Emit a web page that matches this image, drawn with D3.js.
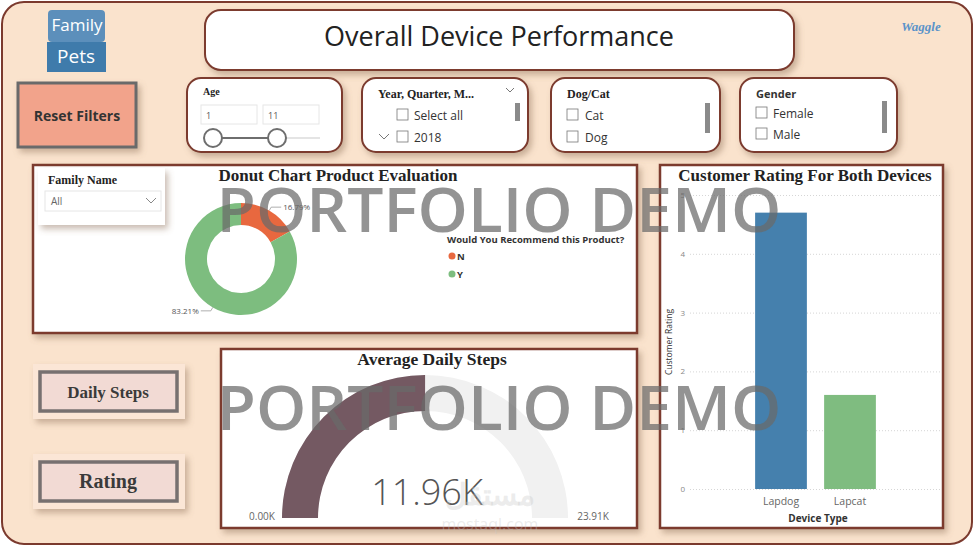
<!DOCTYPE html>
<html>
<head>
<meta charset="utf-8">
<script src="https://cdn.jsdelivr.net/npm/d3@7"></script>
<style>
  html, body { margin: 0; padding: 0; background: #fff; }
  svg { display: block; }
</style>
</head>
<body>
<div class="dash"></div>
<script>
// chart values
const recommendCats = ['N', 'Y'];
const recommendPct = [16.79, 83.21];
const deviceTypes = ['Lapdog', 'Lapcat'];
const deviceRatings = [4.7, 1.6];
const ratingTicks = [0, 1, 2, 3, 4, 5];
const stepsValue = 11.96;
const stepsMax = 23.91;
const ageRange = ['1', '11'];
const yearItems = ['Select all', '2018'];
const petItems = ['Cat', 'Dog'];
const genderItems = ['Female', 'Male'];

const width = 978;
const height = 547;
const brown = '#7b3a2e';
const serif = '"Liberation Serif", "DejaVu Serif", serif';
const sans = '"Open Sans", "Noto Sans", sans-serif';

const svg = d3.select('.dash').append('svg')
  .attr('width', width).attr('height', height);

const defs = svg.append('defs');
const shadow = defs.append('filter').attr('id', 'shadow')
  .attr('x', '-10%').attr('y', '-10%').attr('width', '130%').attr('height', '140%');
shadow.append('feDropShadow').attr('dx', 3).attr('dy', 4)
  .attr('stdDeviation', 3).attr('flood-color', '#8a6a55').attr('flood-opacity', 0.45);

// main background
svg.append('rect').attr('x', 2).attr('y', 2).attr('width', 970).attr('height', 542)
  .attr('rx', 22).attr('fill', '#fae3cd').attr('stroke', brown).attr('stroke-width', 2);

// title box
svg.append('rect').attr('x', 205).attr('y', 10).attr('width', 589).attr('height', 60)
  .attr('rx', 16).attr('fill', '#fff').attr('stroke', brown).attr('stroke-width', 2)
  .attr('filter', 'url(#shadow)');
svg.append('text').attr('x', 499).attr('y', 46).attr('text-anchor', 'middle')
  .attr('font-family', sans).attr('font-size', 27).attr('fill', '#222')
  .text('Overall Device Performance');

// logo
svg.append('rect').attr('x', 48).attr('y', 10).attr('width', 57).attr('height', 32)
  .attr('rx', 4).attr('fill', '#5c8fbb');
svg.append('rect').attr('x', 47).attr('y', 42).attr('width', 59).attr('height', 30)
  .attr('fill', '#3f7bab');
svg.append('text').attr('x', 77).attr('y', 31).attr('text-anchor', 'middle')
  .attr('font-family', sans).attr('font-size', 17).attr('fill', '#fff').text('Family');
svg.append('text').attr('x', 76).attr('y', 63).attr('text-anchor', 'middle')
  .attr('font-family', sans).attr('font-size', 19).attr('fill', '#fff').text('Pets');
svg.append('text').attr('x', 921).attr('y', 31).attr('text-anchor', 'middle')
  .attr('font-family', serif).attr('font-style', 'italic').attr('font-weight', 'bold')
  .attr('font-size', 13).attr('fill', '#5b93c9').text('Waggle');

// reset filters button
svg.append('rect').attr('x', 18).attr('y', 83).attr('width', 118).attr('height', 64)
  .attr('fill', '#f2a38b').attr('stroke', '#6b6b6b').attr('stroke-width', 3)
  .attr('filter', 'url(#shadow)');
svg.append('text').attr('x', 77).attr('y', 121).attr('text-anchor', 'middle')
  .attr('font-family', sans).attr('font-weight', 'bold').attr('font-size', 14)
  .attr('fill', '#333').text('Reset Filters');

// slicer cards
function card(x, y, w, h) {
  svg.append('rect').attr('x', x).attr('y', y).attr('width', w).attr('height', h)
    .attr('rx', 14).attr('fill', '#fff').attr('stroke', brown).attr('stroke-width', 2)
    .attr('filter', 'url(#shadow)');
}
function checkbox(x, y) {
  svg.append('rect').attr('x', x).attr('y', y).attr('width', 11).attr('height', 11)
    .attr('fill', '#fff').attr('stroke', '#777').attr('stroke-width', 0.8);
}
function scrollbar(x, y, h) {
  svg.append('rect').attr('x', x).attr('y', y).attr('width', 5).attr('height', h)
    .attr('fill', '#8a8a8a');
}
function label(x, y, txt, opts) {
  const o = Object.assign({size: 12, family: sans, weight: 'normal', fill: '#444', anchor: 'start'}, opts);
  return svg.append('text').attr('x', x).attr('y', y).attr('text-anchor', o.anchor)
    .attr('font-family', o.family).attr('font-size', o.size).attr('font-weight', o.weight)
    .attr('fill', o.fill).text(txt);
}

// Age
card(187, 78, 155, 74);
label(203, 95, 'Age', {family: serif, weight: 'bold', size: 10, fill: '#222'});
ageRange.forEach((v, i) => {
  const bx = 201 + i * 62;
  svg.append('rect').attr('x', bx).attr('y', 105).attr('width', 56).attr('height', 19)
    .attr('fill', '#fff').attr('stroke', '#e6e6e6');
  label(bx + 5, 119, v, {size: 9, fill: '#555'});
});
svg.append('line').attr('x1', 277).attr('x2', 320).attr('y1', 138).attr('y2', 138)
  .attr('stroke', '#e4e4e4').attr('stroke-width', 2);
svg.append('line').attr('x1', 213).attr('x2', 277).attr('y1', 138).attr('y2', 138)
  .attr('stroke', '#6e6e6e').attr('stroke-width', 2);
[213, 277].forEach(cx => {
  svg.append('circle').attr('cx', cx).attr('cy', 138).attr('r', 9)
    .attr('fill', '#fff').attr('stroke', '#6e6e6e').attr('stroke-width', 2);
});

// Year, Quarter, Month
card(362, 78, 166, 74);
label(378, 98, 'Year, Quarter, M...', {family: serif, weight: 'bold', size: 12, fill: '#222'});
svg.append('path').attr('d', 'M506,88 L510,92 L514,88').attr('fill', 'none')
  .attr('stroke', '#777').attr('stroke-width', 1);
yearItems.forEach((t, i) => {
  const y = 115 + i * 22;
  checkbox(397, y - 6);
  label(414, y + 5, t, {size: 12, fill: '#333'});
});
svg.append('path').attr('d', 'M379,134 L384,139 L389,134').attr('fill', 'none')
  .attr('stroke', '#777').attr('stroke-width', 1);
scrollbar(515, 103, 18);

// Dog/Cat
card(551, 78, 169, 74);
label(567, 98, 'Dog/Cat', {family: serif, weight: 'bold', size: 12, fill: '#222'});
petItems.forEach((t, i) => {
  const y = 115 + i * 22;
  checkbox(567, y - 6);
  label(585, y + 5, t, {size: 12, fill: '#333'});
});
scrollbar(705, 103, 30);

// Gender
card(740, 78, 157, 74);
label(756, 98, 'Gender', {family: sans, weight: 'bold', size: 11, fill: '#333'});
genderItems.forEach((t, i) => {
  const y = 113 + i * 21;
  checkbox(756, y - 6);
  label(773, y + 5, t, {size: 12, fill: '#333'});
});
scrollbar(882, 101, 32);

// panel helper
function panel(x, y, w, h, title, titleX, size) {
  svg.append('rect').attr('x', x).attr('y', y).attr('width', w).attr('height', h)
    .attr('fill', '#fff').attr('stroke', brown).attr('stroke-width', 2.5)
    .attr('filter', 'url(#shadow)');
  label(titleX, y + 16, title, {family: serif, weight: 'bold', size: size, fill: '#222', anchor: 'middle'});
}

// ---- Donut panel ----
panel(33, 165, 604, 168, 'Donut Chart Product Evaluation', 338, 17);

// family name slicer
svg.append('rect').attr('x', 38).attr('y', 168).attr('width', 127).attr('height', 57)
  .attr('fill', '#fff').attr('filter', 'url(#shadow)');
label(48, 184, 'Family Name', {family: serif, weight: 'bold', size: 12, fill: '#222'});
svg.append('rect').attr('x', 45).attr('y', 191).attr('width', 116).attr('height', 20)
  .attr('fill', '#fff').attr('stroke', '#e6e6e6');
label(51, 205, 'All', {size: 10, fill: '#666'});
svg.append('path').attr('d', 'M146,198 L151,203 L156,198').attr('fill', 'none')
  .attr('stroke', '#888').attr('stroke-width', 1);

const donutColor = d3.scaleOrdinal().domain(recommendCats).range(['#e8683f', '#7dbd7f']);
const pie = d3.pie().sort(null).value(d => d.v);
const donutData = pie(recommendCats.map((c, i) => ({c, v: recommendPct[i]})));
const donutR = 56;
const arc = d3.arc().innerRadius(34).outerRadius(donutR);
const donutG = svg.append('g').attr('transform', 'translate(241,259)');
donutG.selectAll('path').data(donutData).enter().append('path')
  .attr('d', arc).attr('fill', d => donutColor(d.data.c));

// leader labels
const outerArc = d3.arc().innerRadius(donutR + 4).outerRadius(donutR + 4);
const edgeArc = d3.arc().innerRadius(donutR).outerRadius(donutR);
donutData.forEach(d => {
  const mid = (d.startAngle + d.endAngle) / 2;
  const [px, py] = outerArc.centroid({startAngle: mid, endAngle: mid});
  const right = Math.sin(mid) > 0;
  const ex = px + (right ? 10 : -10);
  const edge = edgeArc.centroid({startAngle: mid, endAngle: mid});
  donutG.append('polyline')
    .attr('points', [edge, [px, py], [ex, py]].map(p => p.join(',')).join(' '))
    .attr('fill', 'none').attr('stroke', '#999').attr('stroke-width', 0.8);
  donutG.append('text').attr('x', ex + (right ? 2 : -2)).attr('y', py + 3)
    .attr('text-anchor', right ? 'start' : 'end')
    .attr('font-family', sans).attr('font-size', 8).attr('fill', '#555')
    .text(d.data.v.toFixed(2) + '%');
});

// legend
label(447, 243, 'Would You Recommend this Product?', {family: sans, weight: 'bold', size: 9.5, fill: '#333'});
recommendCats.forEach((c, i) => {
  const y = 256 + i * 18;
  svg.append('circle').attr('cx', 452).attr('cy', y).attr('r', 3.5).attr('fill', donutColor(c));
  label(457, y + 3.5, c, {weight: 'bold', size: 9.5, fill: '#333'});
});

// ---- Customer rating bar chart ----
panel(660, 165, 283, 363, 'Customer Rating For Both Devices', 805, 17);
const yRating = d3.scaleLinear().domain([0, 5]).range([489, 195]);
const xDevice = d3.scaleBand().domain(deviceTypes).range([746.5, 884.5])
  .paddingInner(0.25).paddingOuter(0.125);
const barColor = d3.scaleOrdinal().domain(deviceTypes).range(['#4580ad', '#7fbc80']);

const yAxis = svg.append('g').attr('transform', 'translate(690,0)')
  .call(d3.axisLeft(yRating).tickValues(ratingTicks).tickSize(-250).tickFormat(d3.format('d')));
yAxis.select('.domain').remove();
yAxis.selectAll('.tick line').attr('stroke', '#d6d6d6').attr('stroke-dasharray', '1,2');
yAxis.selectAll('.tick text').attr('x', -5).attr('fill', '#888')
  .attr('font-family', sans).attr('font-size', 8);

svg.selectAll('.bar').data(deviceTypes).enter().append('rect')
  .attr('class', 'bar')
  .attr('x', d => xDevice(d))
  .attr('y', (d, i) => yRating(deviceRatings[i]))
  .attr('width', xDevice.bandwidth())
  .attr('height', (d, i) => yRating(0) - yRating(deviceRatings[i]))
  .attr('fill', d => barColor(d));

const xAxis = svg.append('g').attr('transform', 'translate(0,489)')
  .call(d3.axisBottom(xDevice).tickSize(0));
xAxis.select('.domain').remove();
xAxis.selectAll('.tick text').attr('dy', 13).attr('fill', '#666')
  .attr('font-family', sans).attr('font-size', 10.5);
label(818, 522, 'Device Type', {weight: 'bold', size: 10, fill: '#333', anchor: 'middle'});
svg.append('text').attr('transform', 'translate(672,342) rotate(-90)')
  .attr('text-anchor', 'middle').attr('font-family', sans).attr('font-size', 8.5)
  .attr('fill', '#333').text('Customer Rating');

// ---- Average daily steps gauge ----
panel(221, 349, 416, 179, 'Average Daily Steps', 432, 17.5);
const gaugeAngle = d3.scaleLinear().domain([0, stepsMax]).range([-Math.PI / 2, Math.PI / 2]);
const gaugeArc = d3.arc().innerRadius(107).outerRadius(143);
const gaugeG = svg.append('g').attr('transform', 'translate(425,518)');
gaugeG.append('path')
  .attr('d', gaugeArc({startAngle: gaugeAngle(0), endAngle: gaugeAngle(stepsMax)}))
  .attr('fill', '#f1f1f1');
gaugeG.append('path')
  .attr('d', gaugeArc({startAngle: gaugeAngle(0), endAngle: gaugeAngle(stepsValue)}))
  .attr('fill', '#745962');
const kFmt = v => v.toFixed(2) + 'K';
label(427, 505, kFmt(stepsValue), {size: 36, weight: 300, fill: '#555', anchor: 'middle'});
label(262, 520, kFmt(0), {size: 10, fill: '#666', anchor: 'middle'});
label(593, 520, kFmt(stepsMax), {size: 10, fill: '#666', anchor: 'middle'});

// ---- left buttons ----
function navButton(y, txt, size) {
  svg.append('rect').attr('x', 33).attr('y', y - 8).attr('width', 152).attr('height', 55)
    .attr('fill', '#fbe6d6').attr('filter', 'url(#shadow)');
  svg.append('rect').attr('x', 40).attr('y', y).attr('width', 137).attr('height', 39)
    .attr('fill', '#f2dad4').attr('stroke', '#777070').attr('stroke-width', 3.5);
  label(108, y + 26, txt, {family: serif, weight: 'bold', size: size, fill: '#3a3a3a', anchor: 'middle'});
}
navButton(372, 'Daily Steps', 17);
navButton(462, 'Rating', 20);

// ---- watermarks ----
[232, 430].forEach(y => {
  label(499, y, 'PORTFOLIO DEMO', {size: 62, weight: 600, fill: 'rgba(105,105,105,0.72)', anchor: 'middle'})
    .attr('textLength', 565).attr('lengthAdjust', 'spacingAndGlyphs');
});
label(490, 505, 'مستقل', {size: 30, weight: 'bold', fill: 'rgba(200,200,200,0.35)', anchor: 'middle'});
label(490, 530, 'mostaql.com', {size: 16, fill: 'rgba(200,200,200,0.35)', anchor: 'middle'});
</script>
</body>
</html>
